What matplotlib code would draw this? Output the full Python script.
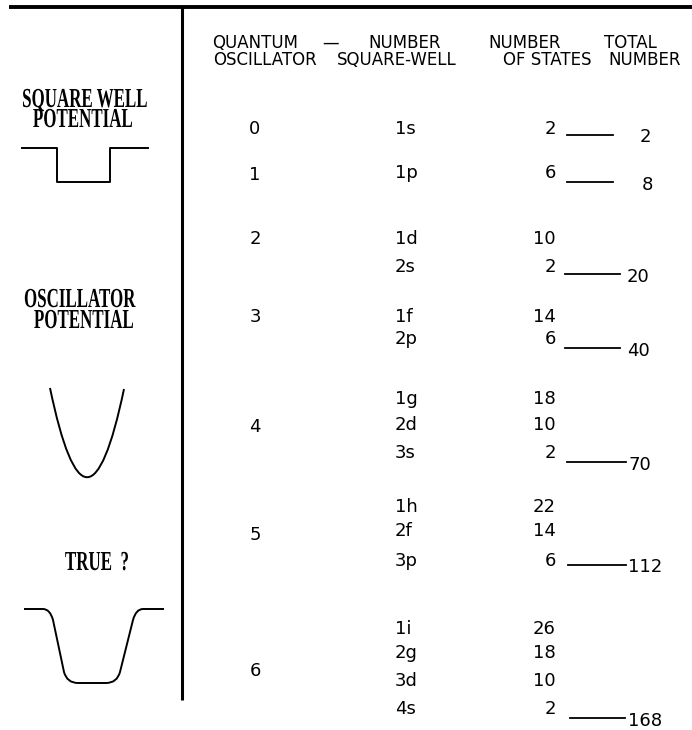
import matplotlib
matplotlib.use("Agg")
import matplotlib.pyplot as plt
from matplotlib.path import Path
from matplotlib.patches import PathPatch
from matplotlib.transforms import Affine2D
from matplotlib import patheffects

# table values
osc_quanta = ["0", "1", "2", "3", "4", "5", "6"]
sw_levels = ["1s", "1p", "1d", "2s", "1f", "2p", "1g", "2d", "3s",
             "1h", "2f", "3p", "1i", "2g", "3d", "4s"]
level_states = [2, 6, 10, 2, 14, 6, 18, 10, 2, 22, 14, 6, 26, 18, 10, 2]
totals = [2, 8, 20, 40, 70, 112, 168]

header_top = ["QUANTUM", "\u2014", "NUMBER", "NUMBER", "TOTAL"]
header_bottom = ["OSCILLATOR", "SQUARE-WELL", "OF STATES", "NUMBER"]
side_labels = ["SQUARE WELL", "POTENTIAL", "OSCILLATOR", "POTENTIAL", "TRUE  ?"]

# layout (pixel coords, y down)
osc_y = [127, 173, 238, 316, 425, 533, 670]
level_y = [127, 172, 238, 265, 315, 338, 398, 424, 451, 505, 530, 559, 627, 652, 680, 707]
total_y = [136, 183, 275, 349, 463, 566, 719]
line_x0 = [567, 567, 565, 565, 567, 568, 570]
line_x1 = [613, 613, 620, 620, 626, 626, 625]
total_x = [640, 642, 627, 627, 628, 628, 628]
header_top_x = [255, 331, 405, 525, 630]
header_bottom_x = [265, 397, 547, 645]
side_x = [85, 83, 80, 84, 97]
side_base = [107, 127, 307, 328, 570]

# potential sketches
well_x = [22, 57, 57, 110, 110, 148]
well_y = [148, 148, 182, 182, 148, 148]
osc_pts = [(50, 388), (87, 566), (124, 389)]
true_pts = [(24, 609), (43, 609), (50, 609), (53, 620), (64, 672), (67, 683), (78, 683),
            (106, 683), (117, 683), (120, 672), (133, 620), (136, 609), (143, 609), (164, 609)]


class VStretch(patheffects.AbstractPathEffect):
    def __init__(self, sy):
        super().__init__()
        self.sy = sy

    def draw_path(self, renderer, gc, tpath, affine, rgbFace=None):
        renderer.draw_path(gc, tpath, Affine2D().scale(1, self.sy) + affine, rgbFace)


fig = plt.figure(figsize=(6.92, 7.30), dpi=100)
ax = fig.add_axes([0, 0, 1, 1])
ax.set_xlim(0, 692)
ax.set_ylim(730, 0)
ax.axis("off")

ax.plot([9, 692], [7, 7], color="black", lw=2.8, solid_capstyle="butt")
ax.plot([182, 182], [7, 700], color="black", lw=2.2, solid_capstyle="butt")

sans = dict(family="DejaVu Sans", color="black")
for s, x in zip(header_top, header_top_x):
    ax.text(x, 48, s, ha="center", va="baseline", fontsize=12, **sans)
for s, x in zip(header_bottom, header_bottom_x):
    ax.text(x, 65, s, ha="center", va="baseline", fontsize=12, **sans)

for s, y in zip(osc_quanta, osc_y):
    ax.text(255, y + 6.5, s, ha="center", va="baseline", fontsize=13, **sans)
for s, n, y in zip(sw_levels, level_states, level_y):
    ax.text(395, y + 6.5, s, ha="left", va="baseline", fontsize=13, **sans)
    ax.text(556, y + 6.5, str(n), ha="right", va="baseline", fontsize=13, **sans)
for t, y, x0, x1, xt in zip(totals, total_y, line_x0, line_x1, total_x):
    ax.plot([x0, x1], [y - 1, y - 1], color="black", lw=1.3)
    ax.text(xt, y + 6.5, str(t), ha="left", va="baseline", fontsize=13, **sans)

for s, x, yb in zip(side_labels, side_x, side_base):
    t = ax.text(x, yb, s, ha="center", va="baseline", fontsize=12.2,
                family="Liberation Serif", fontweight="bold", color="black")
    t.set_path_effects([VStretch(1.62)])

ax.plot(well_x, well_y, color="black", lw=1.4)
codes = [Path.MOVETO, Path.CURVE3, Path.CURVE3]
ax.add_patch(PathPatch(Path(osc_pts, codes), facecolor="none", edgecolor="black", lw=1.4))
codes = [Path.MOVETO, Path.LINETO, Path.CURVE3, Path.CURVE3, Path.LINETO, Path.CURVE3, Path.CURVE3,
         Path.LINETO, Path.CURVE3, Path.CURVE3, Path.LINETO, Path.CURVE3, Path.CURVE3, Path.LINETO]
ax.add_patch(PathPatch(Path(true_pts, codes), facecolor="none", edgecolor="black", lw=1.4))

fig.savefig("out.png", dpi=100, facecolor="white")
